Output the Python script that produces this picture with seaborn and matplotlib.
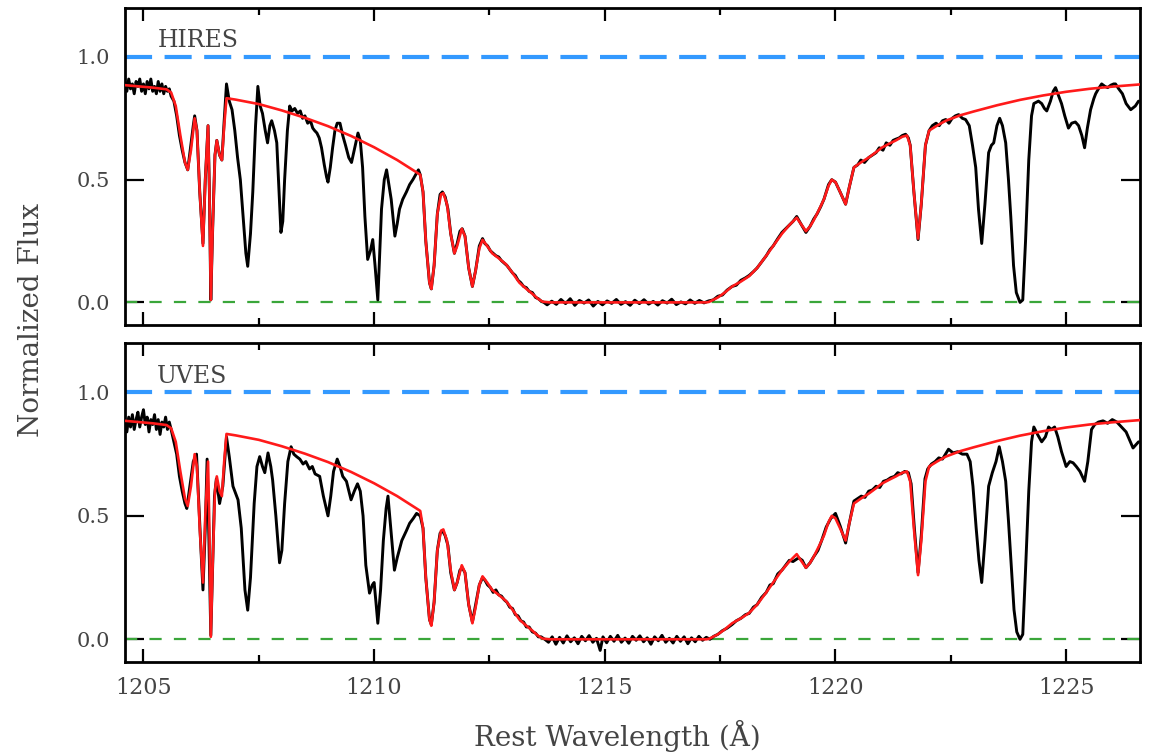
import seaborn as sns
import matplotlib.pyplot as plt
from matplotlib.ticker import MultipleLocator

# red model (same fit shown in both panels)
model_wave = [1204.60, 1204.90, 1205.20, 1205.50, 1205.60, 1205.70, 1205.80, 1205.90, 1205.96, 1206.03,
              1206.11, 1206.16, 1206.22, 1206.29, 1206.34, 1206.40, 1206.43, 1206.46, 1206.50, 1206.55,
              1206.59, 1206.65, 1206.70, 1206.75, 1206.80, 1207.00, 1207.50, 1208.00, 1208.50, 1209.00,
              1209.50, 1210.00, 1210.50, 1210.96, 1211.00, 1211.06, 1211.12, 1211.20, 1211.24, 1211.30,
              1211.37, 1211.45, 1211.50, 1211.58, 1211.66, 1211.74, 1211.80, 1211.90, 1211.97, 1212.05,
              1212.13, 1212.20, 1212.28, 1212.35, 1212.45, 1212.56, 1212.70, 1212.86, 1213.00, 1213.15,
              1213.30, 1213.43, 1213.55, 1213.65, 1213.80, 1214.50, 1215.50, 1216.50, 1217.20, 1217.26,
              1217.45, 1217.60, 1217.76, 1217.95, 1218.13, 1218.30, 1218.50, 1218.65, 1218.84, 1219.00,
              1219.16, 1219.25, 1219.36, 1219.45, 1219.53, 1219.65, 1219.75, 1219.85, 1219.92, 1220.00,
              1220.10, 1220.22, 1220.30, 1220.40, 1220.55, 1220.72, 1220.90, 1221.00, 1221.15, 1221.31,
              1221.45, 1221.55, 1221.62, 1221.70, 1221.79, 1221.86, 1221.95, 1222.03, 1222.20, 1222.39,
              1222.70, 1223.00, 1223.50, 1224.00, 1224.50, 1225.00, 1225.50, 1226.00, 1226.60]
model_flux = [0.885, 0.880, 0.875, 0.868, 0.855, 0.800, 0.680, 0.570, 0.540, 0.620,
              0.750, 0.700, 0.450, 0.230, 0.500, 0.720, 0.450, 0.010, 0.300, 0.600,
              0.660, 0.600, 0.580, 0.720, 0.832, 0.826, 0.808, 0.782, 0.752, 0.718,
              0.678, 0.632, 0.580, 0.525, 0.520, 0.450, 0.250, 0.080, 0.055, 0.150,
              0.360, 0.440, 0.445, 0.400, 0.280, 0.200, 0.230, 0.300, 0.270, 0.140,
              0.065, 0.130, 0.220, 0.255, 0.230, 0.200, 0.180, 0.155, 0.120, 0.080,
              0.055, 0.035, 0.015, 0.003, 0.000, 0.000, 0.000, 0.000, 0.000, 0.002,
              0.020, 0.040, 0.065, 0.085, 0.107, 0.140, 0.190, 0.230, 0.280, 0.315,
              0.345, 0.320, 0.290, 0.310, 0.335, 0.380, 0.420, 0.475, 0.500, 0.490,
              0.450, 0.400, 0.470, 0.550, 0.570, 0.590, 0.615, 0.630, 0.645, 0.660,
              0.675, 0.680, 0.640, 0.450, 0.260, 0.400, 0.640, 0.700, 0.720, 0.740,
              0.762, 0.778, 0.803, 0.825, 0.843, 0.858, 0.870, 0.879, 0.888]

# HIRES spectrum (black, top panel)
hires_wave = [1204.60, 1204.64, 1204.68, 1204.72, 1204.76, 1204.80, 1204.84, 1204.88, 1204.92, 1204.96,
              1205.00, 1205.04, 1205.08, 1205.12, 1205.16, 1205.20, 1205.24, 1205.28, 1205.32, 1205.36,
              1205.40, 1205.44, 1205.48, 1205.52, 1205.56, 1205.60, 1205.66, 1205.72, 1205.78, 1205.84,
              1205.90, 1205.96, 1206.02, 1206.08, 1206.11, 1206.16, 1206.22, 1206.29, 1206.34, 1206.40,
              1206.43, 1206.46, 1206.50, 1206.55, 1206.59, 1206.65, 1206.70, 1206.75, 1206.80, 1206.86,
              1206.92, 1206.98, 1207.04, 1207.10, 1207.16, 1207.22, 1207.26, 1207.32, 1207.37, 1207.43,
              1207.48, 1207.53, 1207.58, 1207.64, 1207.69, 1207.74, 1207.78, 1207.84, 1207.89, 1207.94,
              1207.98, 1208.02, 1208.06, 1208.12, 1208.17, 1208.22, 1208.28, 1208.34, 1208.40, 1208.45,
              1208.50, 1208.56, 1208.62, 1208.67, 1208.71, 1208.76, 1208.81, 1208.86, 1208.92, 1208.97,
              1209.00, 1209.05, 1209.10, 1209.15, 1209.20, 1209.26, 1209.32, 1209.38, 1209.45, 1209.51,
              1209.58, 1209.65, 1209.70, 1209.75, 1209.80, 1209.86, 1209.92, 1209.97, 1210.02, 1210.08,
              1210.12, 1210.16, 1210.22, 1210.27, 1210.32, 1210.37, 1210.45, 1210.50, 1210.55, 1210.62,
              1210.70, 1210.77, 1210.84, 1210.90, 1210.96, 1211.00, 1211.06, 1211.12, 1211.20, 1211.24,
              1211.30, 1211.37, 1211.43, 1211.48, 1211.54, 1211.60, 1211.66, 1211.74, 1211.80, 1211.86,
              1211.91, 1211.97, 1212.05, 1212.13, 1212.20, 1212.28, 1212.35, 1212.40, 1212.46, 1212.52,
              1212.58, 1212.64, 1212.70, 1212.76, 1212.82, 1212.88, 1212.94, 1213.00, 1213.06, 1213.12,
              1213.18, 1213.24, 1213.30, 1213.36, 1213.43, 1213.50, 1213.56, 1213.62, 1213.68, 1213.75,
              1213.85, 1213.95, 1214.05, 1214.15, 1214.25, 1214.35, 1214.45, 1214.55, 1214.65, 1214.75,
              1214.85, 1214.95, 1215.05, 1215.15, 1215.25, 1215.35, 1215.45, 1215.55, 1215.65, 1215.75,
              1215.85, 1215.95, 1216.05, 1216.15, 1216.25, 1216.35, 1216.45, 1216.55, 1216.65, 1216.75,
              1216.85, 1216.95, 1217.05, 1217.15, 1217.25, 1217.35, 1217.45, 1217.55, 1217.65, 1217.76,
              1217.85, 1217.95, 1218.05, 1218.13, 1218.22, 1218.30, 1218.40, 1218.50, 1218.58, 1218.65,
              1218.75, 1218.84, 1218.92, 1219.00, 1219.08, 1219.16, 1219.25, 1219.36, 1219.45, 1219.53,
              1219.60, 1219.68, 1219.75, 1219.85, 1219.92, 1220.00, 1220.10, 1220.22, 1220.30, 1220.40,
              1220.48, 1220.55, 1220.63, 1220.72, 1220.80, 1220.88, 1220.95, 1221.03, 1221.10, 1221.18,
              1221.25, 1221.31, 1221.38, 1221.45, 1221.52, 1221.58, 1221.62, 1221.70, 1221.79, 1221.86,
              1221.95, 1222.03, 1222.10, 1222.18, 1222.25, 1222.32, 1222.39, 1222.46, 1222.53, 1222.60,
              1222.67, 1222.75, 1222.82, 1222.90, 1222.97, 1223.04, 1223.10, 1223.17, 1223.24, 1223.32,
              1223.38, 1223.43, 1223.50, 1223.56, 1223.62, 1223.69, 1223.75, 1223.80, 1223.86, 1223.92,
              1224.00, 1224.06, 1224.12, 1224.19, 1224.25, 1224.30, 1224.40, 1224.47, 1224.53, 1224.58,
              1224.66, 1224.72, 1224.77, 1224.84, 1224.90, 1224.97, 1225.05, 1225.12, 1225.20, 1225.27,
              1225.34, 1225.40, 1225.46, 1225.53, 1225.60, 1225.64, 1225.70, 1225.77, 1225.84, 1225.90,
              1225.97, 1226.03, 1226.07, 1226.14, 1226.22, 1226.30, 1226.40, 1226.50, 1226.57]
hires_flux = [0.90, 0.86, 0.91, 0.87, 0.89, 0.85, 0.90, 0.88, 0.91, 0.86,
              0.89, 0.85, 0.90, 0.87, 0.91, 0.86, 0.88, 0.85, 0.90, 0.86,
              0.89, 0.85, 0.88, 0.86, 0.87, 0.84, 0.82, 0.76, 0.68, 0.62,
              0.57, 0.54, 0.63, 0.72, 0.76, 0.70, 0.45, 0.24, 0.50, 0.72,
              0.45, 0.01, 0.30, 0.60, 0.66, 0.60, 0.58, 0.74, 0.89, 0.82,
              0.785, 0.70, 0.59, 0.50, 0.35, 0.20, 0.147, 0.28, 0.45, 0.72,
              0.88, 0.80, 0.77, 0.70, 0.65, 0.72, 0.74, 0.70, 0.65, 0.45,
              0.285, 0.33, 0.50, 0.70, 0.80, 0.78, 0.79, 0.77, 0.78, 0.75,
              0.76, 0.73, 0.74, 0.71, 0.70, 0.69, 0.67, 0.63, 0.56, 0.51,
              0.49, 0.55, 0.63, 0.70, 0.73, 0.73, 0.68, 0.64, 0.59, 0.57,
              0.63, 0.69, 0.66, 0.55, 0.35, 0.175, 0.21, 0.256, 0.15, 0.01,
              0.20, 0.38, 0.50, 0.54, 0.48, 0.42, 0.27, 0.32, 0.38, 0.42,
              0.45, 0.48, 0.50, 0.52, 0.54, 0.52, 0.45, 0.25, 0.08, 0.055,
              0.15, 0.36, 0.44, 0.45, 0.43, 0.38, 0.28, 0.20, 0.24, 0.29,
              0.30, 0.27, 0.14, 0.065, 0.13, 0.23, 0.26, 0.24, 0.23, 0.21,
              0.20, 0.19, 0.185, 0.17, 0.16, 0.15, 0.135, 0.12, 0.11, 0.09,
              0.08, 0.065, 0.06, 0.045, 0.04, 0.02, 0.015, 0.005, 0.0, -0.01,
              0.005, -0.008, 0.012, -0.005, 0.015, -0.012, 0.008, -0.003, 0.01, -0.015,
              0.004, -0.01, 0.006, -0.004, 0.012, -0.008, 0.003, -0.012, 0.009, -0.005,
              0.011, -0.007, 0.004, -0.011, 0.007, -0.003, 0.013, -0.009, 0.002, -0.006,
              0.01, -0.004, 0.008, -0.002, 0.006, 0.01, 0.025, 0.03, 0.05, 0.065,
              0.07, 0.09, 0.10, 0.11, 0.125, 0.14, 0.165, 0.19, 0.215, 0.23,
              0.26, 0.285, 0.30, 0.315, 0.33, 0.35, 0.32, 0.285, 0.31, 0.34,
              0.36, 0.39, 0.42, 0.48, 0.50, 0.49, 0.45, 0.40, 0.47, 0.55,
              0.56, 0.58, 0.57, 0.59, 0.60, 0.61, 0.63, 0.62, 0.65, 0.64,
              0.66, 0.665, 0.67, 0.68, 0.685, 0.67, 0.64, 0.45, 0.256, 0.40,
              0.64, 0.70, 0.72, 0.73, 0.72, 0.74, 0.745, 0.73, 0.75, 0.76,
              0.765, 0.75, 0.745, 0.72, 0.64, 0.55, 0.38, 0.24, 0.40, 0.61,
              0.64, 0.65, 0.72, 0.75, 0.72, 0.65, 0.50, 0.35, 0.15, 0.04,
              0.0, 0.01, 0.25, 0.58, 0.76, 0.81, 0.82, 0.81, 0.79, 0.78,
              0.82, 0.86, 0.875, 0.84, 0.81, 0.76, 0.71, 0.73, 0.735, 0.72,
              0.68, 0.63, 0.71, 0.785, 0.83, 0.85, 0.87, 0.89, 0.88, 0.875,
              0.885, 0.89, 0.89, 0.87, 0.85, 0.81, 0.785, 0.80, 0.82]

# UVES spectrum (black, bottom panel)
uves_wave = [1204.60, 1204.64, 1204.68, 1204.72, 1204.76, 1204.80, 1204.84, 1204.88, 1204.92, 1204.96,
             1205.00, 1205.04, 1205.08, 1205.12, 1205.16, 1205.20, 1205.24, 1205.28, 1205.32, 1205.36,
             1205.40, 1205.44, 1205.48, 1205.52, 1205.56, 1205.60, 1205.66, 1205.72, 1205.78, 1205.84,
             1205.90, 1205.94, 1206.02, 1206.08, 1206.15, 1206.20, 1206.25, 1206.29, 1206.34, 1206.38,
             1206.42, 1206.46, 1206.50, 1206.54, 1206.58, 1206.65, 1206.72, 1206.80, 1206.86, 1206.94,
             1207.05, 1207.12, 1207.20, 1207.26, 1207.32, 1207.40, 1207.46, 1207.52, 1207.58, 1207.63,
             1207.70, 1207.76, 1207.80, 1207.87, 1207.95, 1208.00, 1208.06, 1208.13, 1208.20, 1208.26,
             1208.32, 1208.39, 1208.46, 1208.52, 1208.60, 1208.66, 1208.72, 1208.82, 1208.90, 1209.00,
             1209.06, 1209.12, 1209.20, 1209.26, 1209.32, 1209.40, 1209.50, 1209.57, 1209.64, 1209.70,
             1209.76, 1209.82, 1209.90, 1209.96, 1210.00, 1210.04, 1210.08, 1210.14, 1210.20, 1210.26,
             1210.30, 1210.36, 1210.44, 1210.50, 1210.60, 1210.70, 1210.77, 1210.85, 1210.92, 1211.00,
             1211.06, 1211.12, 1211.20, 1211.24, 1211.30, 1211.37, 1211.43, 1211.48, 1211.54, 1211.60,
             1211.66, 1211.74, 1211.80, 1211.86, 1211.91, 1211.97, 1212.05, 1212.13, 1212.20, 1212.28,
             1212.35, 1212.40, 1212.46, 1212.52, 1212.58, 1212.64, 1212.70, 1212.76, 1212.82, 1212.88,
             1212.94, 1213.00, 1213.06, 1213.12, 1213.18, 1213.24, 1213.30, 1213.36, 1213.43, 1213.50,
             1213.56, 1213.62, 1213.70, 1213.78, 1213.86, 1213.94, 1214.02, 1214.10, 1214.18, 1214.26,
             1214.34, 1214.42, 1214.50, 1214.58, 1214.66, 1214.74, 1214.82, 1214.90, 1214.96, 1215.04,
             1215.12, 1215.20, 1215.28, 1215.36, 1215.44, 1215.52, 1215.60, 1215.68, 1215.76, 1215.84,
             1215.92, 1216.00, 1216.08, 1216.16, 1216.24, 1216.32, 1216.40, 1216.48, 1216.56, 1216.64,
             1216.72, 1216.80, 1216.88, 1216.96, 1217.04, 1217.12, 1217.20, 1217.28, 1217.36, 1217.45,
             1217.55, 1217.65, 1217.76, 1217.85, 1217.95, 1218.05, 1218.13, 1218.22, 1218.30, 1218.40,
             1218.50, 1218.58, 1218.65, 1218.75, 1218.84, 1218.92, 1219.00, 1219.08, 1219.20, 1219.28,
             1219.36, 1219.45, 1219.53, 1219.62, 1219.70, 1219.80, 1219.90, 1220.00, 1220.10, 1220.22,
             1220.30, 1220.40, 1220.48, 1220.56, 1220.64, 1220.72, 1220.80, 1220.88, 1220.96, 1221.04,
             1221.12, 1221.20, 1221.28, 1221.35, 1221.42, 1221.50, 1221.58, 1221.64, 1221.71, 1221.79,
             1221.86, 1221.94, 1222.00, 1222.08, 1222.16, 1222.24, 1222.32, 1222.45, 1222.55, 1222.65,
             1222.75, 1222.85, 1222.92, 1222.98, 1223.05, 1223.11, 1223.17, 1223.24, 1223.32, 1223.40,
             1223.48, 1223.55, 1223.62, 1223.69, 1223.75, 1223.81, 1223.87, 1223.93, 1224.00, 1224.06,
             1224.12, 1224.19, 1224.25, 1224.30, 1224.38, 1224.47, 1224.55, 1224.62, 1224.68, 1224.75,
             1224.82, 1224.90, 1225.00, 1225.08, 1225.15, 1225.22, 1225.30, 1225.40, 1225.47, 1225.55,
             1225.62, 1225.70, 1225.80, 1225.90, 1226.00, 1226.10, 1226.20, 1226.30, 1226.45, 1226.57]
uves_flux = [0.88, 0.84, 0.90, 0.86, 0.91, 0.85, 0.89, 0.92, 0.86, 0.90,
             0.93, 0.87, 0.90, 0.84, 0.89, 0.87, 0.91, 0.85, 0.89, 0.83,
             0.88, 0.86, 0.90, 0.85, 0.88, 0.85, 0.80, 0.75, 0.66, 0.60,
             0.55, 0.53, 0.64, 0.72, 0.75, 0.55, 0.35, 0.20, 0.45, 0.73,
             0.40, 0.016, 0.30, 0.58, 0.65, 0.55, 0.62, 0.82, 0.74, 0.62,
             0.565, 0.45, 0.20, 0.118, 0.25, 0.55, 0.70, 0.74, 0.70, 0.675,
             0.755, 0.70, 0.645, 0.50, 0.31, 0.36, 0.55, 0.72, 0.78, 0.75,
             0.74, 0.73, 0.71, 0.72, 0.69, 0.70, 0.67, 0.66, 0.58, 0.50,
             0.58, 0.68, 0.73, 0.70, 0.66, 0.64, 0.565, 0.60, 0.63, 0.60,
             0.50, 0.30, 0.187, 0.22, 0.23, 0.15, 0.065, 0.20, 0.40, 0.53,
             0.58, 0.45, 0.28, 0.33, 0.40, 0.44, 0.47, 0.49, 0.51, 0.50,
             0.45, 0.25, 0.08, 0.06, 0.15, 0.36, 0.43, 0.44, 0.42, 0.38,
             0.27, 0.20, 0.23, 0.28, 0.29, 0.27, 0.14, 0.07, 0.14, 0.22,
             0.25, 0.24, 0.22, 0.21, 0.19, 0.20, 0.18, 0.175, 0.16, 0.15,
             0.13, 0.125, 0.10, 0.095, 0.075, 0.07, 0.05, 0.05, 0.03, 0.025,
             0.01, 0.01, 0.0, -0.012, 0.01, -0.02, 0.008, -0.015, 0.014, -0.01,
             0.006, -0.018, 0.012, -0.006, 0.015, -0.012, 0.004, -0.045, 0.01, -0.014,
             0.012, -0.008, 0.016, -0.012, 0.005, -0.016, 0.012, -0.004, 0.014, -0.01,
             0.006, -0.02, 0.01, -0.006, 0.016, -0.012, 0.004, -0.015, 0.012, -0.008,
             0.01, -0.018, 0.006, -0.01, 0.012, -0.004, 0.008, 0.0, 0.012, 0.02,
             0.035, 0.045, 0.06, 0.075, 0.085, 0.10, 0.105, 0.13, 0.14, 0.17,
             0.19, 0.22, 0.225, 0.265, 0.28, 0.30, 0.32, 0.315, 0.33, 0.32,
             0.29, 0.31, 0.335, 0.36, 0.40, 0.455, 0.49, 0.51, 0.46, 0.39,
             0.47, 0.56, 0.57, 0.58, 0.575, 0.60, 0.605, 0.62, 0.615, 0.64,
             0.645, 0.655, 0.66, 0.675, 0.67, 0.68, 0.675, 0.63, 0.45, 0.27,
             0.42, 0.65, 0.69, 0.71, 0.72, 0.735, 0.73, 0.77, 0.755, 0.76,
             0.75, 0.75, 0.72, 0.62, 0.45, 0.32, 0.23, 0.40, 0.62, 0.675,
             0.72, 0.78, 0.72, 0.64, 0.48, 0.30, 0.12, 0.03, 0.0, 0.02,
             0.28, 0.60, 0.80, 0.86, 0.83, 0.80, 0.82, 0.86, 0.85, 0.86,
             0.82, 0.76, 0.70, 0.72, 0.715, 0.70, 0.68, 0.64, 0.72, 0.85,
             0.87, 0.88, 0.885, 0.875, 0.89, 0.88, 0.86, 0.84, 0.775, 0.80]

panel_labels = ["HIRES", "UVES"]

sns.set_theme(style="white")
plt.rcParams["font.family"] = ["DejaVu Serif"]
text_color = "#444444"

fig = plt.figure(figsize=(11.51, 7.54), dpi=100)
ax_top = fig.add_axes([0.1086, 0.569, 0.8818, 0.4206])
ax_bot = fig.add_axes([0.1086, 0.122, 0.8818, 0.423])

spectra = [(hires_wave, hires_flux), (uves_wave, uves_flux)]
for ax, (wave, flux), name in zip([ax_top, ax_bot], spectra, panel_labels):
    ax.axhline(1.0, color="#3399ff", lw=3, ls=(0, (6.5, 3)), zorder=1)
    ax.axhline(0.0, color="#3aa63a", lw=1.6, ls=(0, (5.5, 5.5)), zorder=1)
    sns.lineplot(x=wave, y=flux, ax=ax, color="black", lw=2.1,
                 sort=False, estimator=None, zorder=2)
    sns.lineplot(x=model_wave, y=model_flux, ax=ax, color="#ff1a1a", lw=1.9,
                 sort=False, estimator=None, zorder=3)
    ax.text(1205.3, 1.065, name, fontsize=17, color=text_color, va="center", ha="left")

    ax.set_xlim(1204.6, 1226.6)
    ax.set_ylim(-0.092, 1.2)
    ax.xaxis.set_major_locator(MultipleLocator(5))
    ax.xaxis.set_minor_locator(MultipleLocator(2.5))
    ax.set_yticks([0.0, 0.5, 1.0])
    ax.tick_params(axis="both", which="both", direction="in",
                   top=True, right=True, bottom=True, left=True,
                   width=1.6, color="black", labelcolor=text_color)
    ax.tick_params(axis="x", which="major", length=9.5, pad=11, labelsize=16)
    ax.tick_params(axis="x", which="minor", length=5)
    ax.tick_params(axis="y", which="major", length=14, pad=11, labelsize=15)
    ax.yaxis.set_major_formatter(plt.FormatStrFormatter("%.1f"))
    for side in ax.spines.values():
        side.set_linewidth(2)
        side.set_color("black")
    ax.set_xlabel("")
    ax.set_ylabel("")

ax_top.tick_params(axis="x", labelbottom=False)

fig.text(0.027, 0.576, "Normalized Flux", rotation=90, fontsize=20,
         color=text_color, ha="center", va="center")
fig.text(0.536, 0.024, "Rest Wavelength (Å)", fontsize=20,
         color=text_color, ha="center", va="center")

fig.savefig("out.png", dpi=100)
